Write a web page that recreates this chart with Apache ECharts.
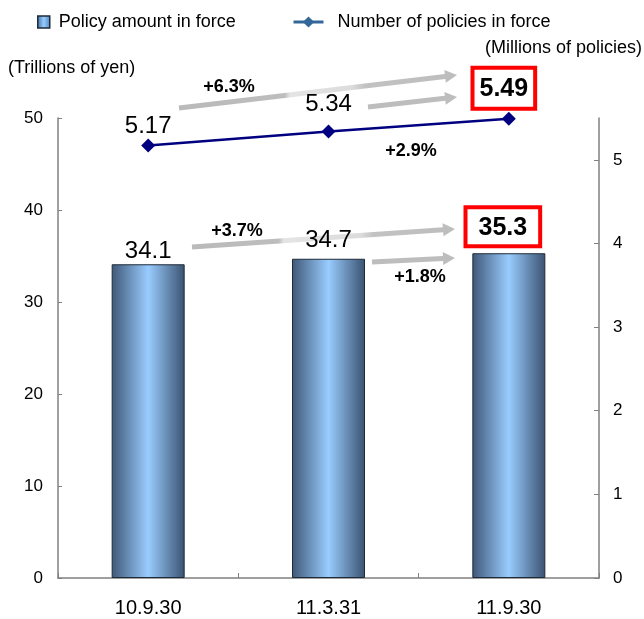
<!DOCTYPE html>
<html>
<head>
<meta charset="utf-8">
<style>
  html, body { margin: 0; padding: 0; background: #fff; }
  #chart { width: 644px; height: 619px; }
</style>
<script src="https://cdn.jsdelivr.net/npm/echarts@6/dist/echarts.min.js"></script>
</head>
<body>
<div id="chart"></div>
<script>
// ---- data ----
const categories = ['10.9.30', '11.3.31', '11.9.30'];
const policyAmount = [34.1, 34.7, 35.3];      // trillions of yen
const policyCount = [5.17, 5.34, 5.49];       // millions of policies
const leftTicks = [0, 10, 20, 30, 40, 50];
const rightTicks = [0, 1, 2, 3, 4, 5];
const seriesNames = ['Policy amount in force', 'Number of policies in force'];
const growthLabels = ['+6.3%', '+2.9%', '+3.7%', '+1.8%'];
const unitLeft = '(Trillions of yen)';
const unitRight = '(Millions of policies)';

const FONT = "'Liberation Sans', Arial, sans-serif";
const chart = echarts.init(document.getElementById('chart'), null, { renderer: 'canvas' });

const barGradient = new echarts.graphic.LinearGradient(0, 0, 1, 0, [
  { offset: 0, color: '#3f5877' },
  { offset: 0.5, color: '#99ccff' },
  { offset: 1, color: '#3a5270' }
]);

// label styles (last point highlighted in a red box)
const countLabelStyles = [
  { distance: 0 },
  { distance: 8 },
  { distance: 5, offset: [-5, 0], fontWeight: 'bold', fontSize: 25,
    borderColor: '#ff0000', borderWidth: 4, padding: [7, 5, 5, 5], backgroundColor: '#fff' }
];
const amountLabelStyles = [
  { distance: 1 },
  { distance: 6 },
  { distance: 9, offset: [-6, 0], fontWeight: 'bold', fontSize: 25,
    borderColor: '#ff0000', borderWidth: 4, padding: [6, 11, 4, 11], backgroundColor: '#fff' }
];

// annotation arrows (pixel layout)
function arrow(x1, y1, x2, y2, shaft, headLen, headW, highlight) {
  const dx = x2 - x1, dy = y2 - y1;
  const L = Math.sqrt(dx * dx + dy * dy);
  const ux = dx / L, uy = dy / L, nx = -uy, ny = ux;
  const bx = x2 - ux * headLen, by = y2 - uy * headLen;
  const pts = [
    [x1 + nx * shaft / 2, y1 + ny * shaft / 2],
    [bx + nx * shaft / 2, by + ny * shaft / 2],
    [bx + nx * headW / 2, by + ny * headW / 2],
    [x2, y2],
    [bx - nx * headW / 2, by - ny * headW / 2],
    [bx - nx * shaft / 2, by - ny * shaft / 2],
    [x1 - nx * shaft / 2, y1 - ny * shaft / 2]
  ];
  const fill = highlight
    ? new echarts.graphic.LinearGradient(0, 0, 1, 0, [
        { offset: 0, color: '#bababa' },
        { offset: highlight[0] - 0.01, color: '#bdbdbd' },
        { offset: highlight[0] + 0.01, color: '#e4e4e4' },
        { offset: highlight[1] - 0.05, color: '#dcdcdc' },
        { offset: highlight[1], color: '#c2c2c2' },
        { offset: 1, color: '#bdbdbd' }
      ])
    : '#bdbdbd';
  return { type: 'polygon', shape: { points: pts }, style: { fill: fill }, z: 1, silent: true };
}
function note(text, x, y) {
  return { type: 'text', x: x, y: y, z: 60, silent: true,
    style: { text: text, font: 'bold 18px ' + FONT, fill: '#000', align: 'center', verticalAlign: 'middle' } };
}

const option = {
  animation: false,
  backgroundColor: '#fff',
  textStyle: { fontFamily: FONT },
  legend: [
    {
      left: 32, top: 8, itemWidth: 12, itemHeight: 12,
      data: [{ name: seriesNames[0], icon: 'rect',
        itemStyle: { color: new echarts.graphic.LinearGradient(0, 0, 1, 0, [
          { offset: 0, color: '#3f6f9f' }, { offset: 0.5, color: '#99ccff' }, { offset: 1, color: '#4a86c0' }]),
          borderColor: '#1e2a38', borderWidth: 1.5 } }],
      textStyle: { fontSize: 18, color: '#000', fontFamily: FONT, padding: [0, 0, 0, 4] }
    },
    {
      left: 287, top: 8, itemWidth: 30, itemHeight: 14,
      data: [{ name: seriesNames[1],
        itemStyle: { color: '#336699' }, lineStyle: { color: '#336699', width: 3 } }],
      textStyle: { fontSize: 18, color: '#000', fontFamily: FONT, padding: [0, 0, 0, 9] }
    }
  ],
  grid: { left: 58, right: 45, top: 118, bottom: 41, containLabel: false },
  xAxis: {
    type: 'category',
    data: categories,
    boundaryGap: true,
    axisLine: { lineStyle: { color: '#808080', width: 1.5 } },
    axisTick: { show: true, inside: true, length: 5, alignWithLabel: false, lineStyle: { color: '#808080' } },
    axisLabel: { fontSize: 20, color: '#000', margin: 20, fontFamily: FONT }
  },
  yAxis: [
    {
      type: 'value', min: 0, max: 50, interval: 10,
      axisLine: { show: true, lineStyle: { color: '#808080', width: 1.5 } },
      axisTick: { show: true, inside: true, length: 4, lineStyle: { color: '#808080' }, customValues: leftTicks },
      axisLabel: { fontSize: 17, color: '#000', margin: 15, fontFamily: FONT, customValues: leftTicks },
      splitLine: { show: false }
    },
    {
      type: 'value', min: 0, max: 5.5, interval: 1, position: 'right',
      axisLine: { show: true, lineStyle: { color: '#808080', width: 1.5 } },
      axisTick: { show: true, inside: true, length: 5, lineStyle: { color: '#808080' }, customValues: rightTicks },
      axisLabel: { fontSize: 17, color: '#000', margin: 14, fontFamily: FONT, customValues: rightTicks,
        formatter: function (v) { return rightTicks.indexOf(v) >= 0 ? String(v) : ''; } },
      splitLine: { show: false }
    }
  ],
  series: [
    {
      name: seriesNames[0],
      type: 'bar',
      barWidth: 73,
      itemStyle: { color: barGradient, borderColor: '#1e2a38', borderWidth: 1 },
      label: { show: true, position: 'top', fontSize: 24, color: '#000', fontFamily: FONT },
      data: policyAmount.map((v, i) => ({ value: v, label: amountLabelStyles[i] })),
      z: 2
    },
    {
      name: seriesNames[1],
      type: 'line',
      yAxisIndex: 1,
      symbol: 'diamond',
      symbolSize: 14,
      lineStyle: { color: '#000080', width: 2.5 },
      itemStyle: { color: '#000080' },
      label: { show: true, position: 'top', fontSize: 24, color: '#000', fontFamily: FONT },
      data: policyCount.map((v, i) => ({ value: v, label: countLabelStyles[i] })),
      z: 5
    }
  ],
  graphic: [
    { type: 'text', x: 8, y: 68, silent: true,
      style: { text: unitLeft, font: '18px ' + FONT, fill: '#000', align: 'left', verticalAlign: 'middle' } },
    { type: 'text', x: 642, y: 48, silent: true,
      style: { text: unitRight, font: '18px ' + FONT, fill: '#000', align: 'right', verticalAlign: 'middle' } },
    arrow(179, 108, 457, 75, 5, 12, 13, [0.39, 0.67]),
    arrow(368, 107, 457, 97, 5, 12, 13, null),
    arrow(192, 247, 455, 229, 5, 12, 13, [0.34, 0.69]),
    arrow(372, 262, 455, 258, 5, 12, 13, null),
    note(growthLabels[0], 229, 87),
    note(growthLabels[1], 411, 151),
    note(growthLabels[2], 237, 231),
    note(growthLabels[3], 420, 277)
  ]
};
chart.setOption(option);
</script>
</body>
</html>
